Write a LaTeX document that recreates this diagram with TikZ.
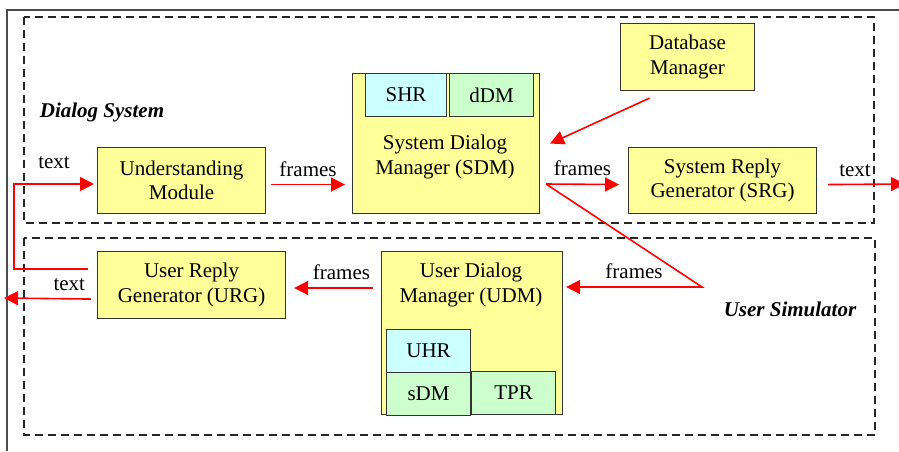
\documentclass[tikz,border=0pt]{standalone}
\usepackage{fontspec}
\setmainfont{Liberation Serif}
\usetikzlibrary{arrows.meta, positioning, calc}

\definecolor{boxyellow}{HTML}{FFFF99}
\definecolor{boxcyan}{HTML}{CCFFFF}
\definecolor{boxgreen}{HTML}{CCFFCC}

\begin{document}
\begin{tikzpicture}[
    x=1pt, y=-1pt,
    box/.style={draw=black!80, line width=1.1pt, fill=boxyellow, anchor=north west, inner sep=0pt, align=center},
    sub/.style={draw=black!80, line width=1.1pt, anchor=north west, inner sep=0pt, minimum height=43pt},
    group/.style={draw=black!85, line width=1.1pt, dash pattern=on 8pt off 5pt},
    frame/.style={draw=black!70, line width=2pt},
    flow/.style={draw=red, line width=1.6pt, -{Triangle[length=14pt, width=14pt]}},
    lbl/.style={above=4pt},
    tag/.style={font=\fontsize{21}{24.5}\selectfont\bfseries\itshape},
    align=center,
    font=\fontsize{21}{24.5}\selectfont,
]
    \useasboundingbox (0,0) rectangle (899,451);

    % page frame and the two groups
    \draw[frame] (7,451) |- (899,10);
    \draw[group] (24,17) rectangle (874,223);
    \draw[group] (24,238) rectangle (875,435);
    \node[tag] (dsys) at (102,112) {Dialog System};
    \node[tag] (usim) at (790,309) {User Simulator};

    % dialog system
    \node[box, minimum width=168pt, minimum height=66pt] (um) at (97,147) {Understanding\\Module};
    \node[box, minimum width=187pt, minimum height=140pt] (sdm) at (352,73) {};
    \node[sub, fill=boxcyan, minimum width=81pt] (shr) at (365,73) {SHR};
    \node[sub, fill=boxgreen, minimum width=84pt] (ddm) at (449,73) {dDM};
    \node (sdmtxt) at (445,157) {System Dialog\\Manager (SDM)};
    \node[box, minimum width=134pt, minimum height=67pt] (db) at (620,23) {Database\\Manager};
    \node[box, minimum width=188pt, minimum height=66pt] (srg) at (628,147) {System Reply\\Generator (SRG)};

    % user simulator
    \node[box, minimum width=188pt, minimum height=67pt] (urg) at (97,251) {User Reply\\Generator (URG)};
    \node[box, minimum width=181pt, minimum height=163pt] (udm) at (381,251) {};
    \node (udmtxt) at (471,285) {User Dialog\\Manager (UDM)};
    \node[sub, fill=boxcyan, minimum width=84pt] (uhr) at (386,329) {UHR};
    \node[sub, fill=boxgreen, minimum width=84pt] (sdmsub) at (386,372) {sDM};
    \node[sub, fill=boxgreen, minimum width=84pt] (tpr) at (471,371) {TPR};

    % free ends of the red connectors
    \coordinate (fbend) at (14,184);
    \coordinate (sdmout) at (546,184);
    \coordinate (bend) at (702,287);
    \coordinate (sysout) at (905,184);
    \coordinate (usrout) at (4,298);

    \draw[flow] ($(urg.west)+(-9,-16)$) -| (fbend) -- ($(fbend -| um.west)+(-3,0)$)
        node[lbl, above=11pt, midway] {text};
    \draw[flow] ($(um.east)+(5,4)$) -- ($(um.east -| sdm.west)+(-7,4)$) node[lbl, midway] {frames};
    \draw[flow] ($(db.south)+(-38,7)$) -- ($(sdm.east)+(10,0)$);
    \draw[flow] (sdmout) -- ($(srg.west)+(-9,4)$) node[lbl, midway] {frames};
    \draw[flow] ($(srg.east)+(11,4)$) -- (sysout) node[lbl, pos=0.35] {text};
    \draw[flow] (sdmout) -- (bend) -- ($(udm.east |- bend)+(3,0)$) node[lbl, midway] {frames};
    \draw[flow] ($(udm.west |- bend)+(-8,1)$) -- ($(urg.east |- bend)+(8,1)$) node[lbl, pos=0.4] {frames};
    \draw[flow] ($(urg.west)+(-6,14)$) -- (usrout) node[lbl, pos=0.25] {text};
\end{tikzpicture}
\end{document}
